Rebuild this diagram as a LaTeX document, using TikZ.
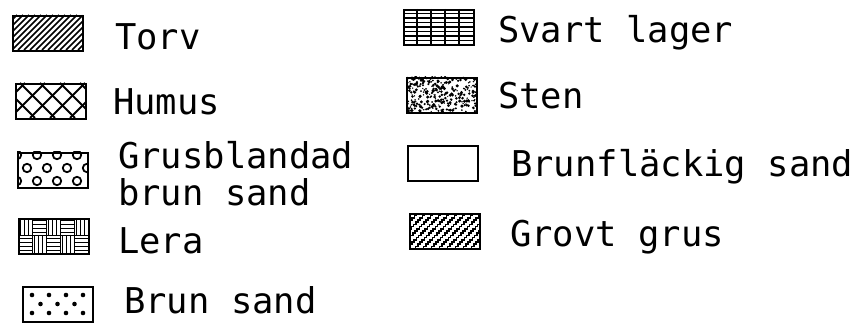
\documentclass[tikz,border=0pt]{standalone}
\usepackage{fontspec}
\newfontfamily\legendfont{DejaVu Sans Mono}
\begin{document}
\begin{tikzpicture}[x=1pt,y=-1pt,
    swatch/.style={draw,line width=2pt,minimum width=70pt,minimum height=35pt,
                   inner sep=0pt,anchor=north west},
    legend/.style={font=\legendfont\fontsize{35.5}{36}\selectfont,anchor=base west,
                   inner sep=0pt},
    hatch/.style={line width=1.6pt}]
  \useasboundingbox (0,0) rectangle (864,323);
  % rutorna, vänster kolumn och höger kolumn
  \node[swatch] (torv)   at (12,15)   {};
  \node[swatch] (humus)  at (15,83)   {};
  \node[swatch] (grus)   at (17,152)  {};
  \node[swatch] (lera)   at (18,218)  {};
  \node[swatch] (brun)   at (22,286)  {};
  \node[swatch] (svart)  at (403,9)   {};
  \node[swatch] (sten)   at (406,77)  {};
  \node[swatch] (flack)  at (407,145) {};
  \node[swatch] (grovt)  at (409,213) {};
  % torv: täta snedstreck
  \begin{scope}[shift={(torv.north west)}]
    \clip (0,0) rectangle (70,35);
    \foreach \k in {-42,-36,...,78} \draw[hatch] (\k,35) -- ++(35,-35);
  \end{scope}
  % humus: korsade streck
  \begin{scope}[shift={(humus.north west)}]
    \clip (0,0) rectangle (70,35);
    \foreach \k in {-45,-25,...,95} {
      \draw[hatch,line width=1.8pt] (\k,35) -- ++(35,-35);
      \draw[hatch,line width=1.8pt] (\k+10,0) -- ++(35,35);
    }
  \end{scope}
  % grusblandad: små ringar
  \begin{scope}[shift={(grus.north west)}]
    \clip (0,0) rectangle (70,35);
    \foreach \y/\o in {3/0,16/10,29/0}
      \foreach \x in {0,20,40,60,80}
        \draw[line width=1.8pt] (\x+\o,\y) circle (4.2);
  \end{scope}
  % lera: block med lodräta och vågräta streck
  \begin{scope}[shift={(lera.north west)}]
    \clip (0,0) rectangle (70,35);
    \foreach \c in {0,...,4}
      \foreach \r in {0,1} {
        \pgfmathtruncatemacro\flip{mod(\c+\r,2)}
        \ifnum\flip=0
          \foreach \s in {2.5,6.5,...,13} \draw[line width=0.8pt] (\c*14+\s,\r*17.5) -- ++(0,17.5);
        \else
          \foreach \s in {2.5,6.5,...,16} \draw[line width=0.8pt] (\c*14,\r*17.5+\s) -- ++(14,0);
        \fi
        \draw[line width=0.9pt] (\c*14,\r*17.5) rectangle ++(14,17.5);
      }
  \end{scope}
  % brun sand: prickar
  \begin{scope}[shift={(brun.north west)}]
    \foreach \y/\o in {9/0,18/8.5,27/0}
      \foreach \x in {10,27,44,61} {
        \pgfmathsetmacro\px{\x+\o}
        \ifdim\px pt<66pt \fill (\px,\y) circle (2.3); \fi
      }
  \end{scope}
  % svart lager: rutnät
  \begin{scope}[shift={(svart.north west)}]
    \clip (0,0) rectangle (70,35);
    \foreach \s in {14,28,42,56} \draw[line width=1.6pt] (\s,0) -- (\s,35);
    \foreach \s in {4.5,9,...,32} \draw[line width=1.3pt] (0,\s) -- (70,\s);
  \end{scope}
  % sten: oregelbundna fläckar
  \begin{scope}[shift={(sten.north west)}]
    \clip (0,0) rectangle (70,35);
    \pgfmathsetseed{42}
    \foreach \i in {1,...,320} {
      \pgfmathsetmacro\px{rnd*70}
      \pgfmathsetmacro\py{rnd*35}
      \pgfmathsetmacro\pr{0.6+rnd*1.1}
      \fill (\px,\py) circle (\pr);
    }
  \end{scope}
  % grovt grus: trappstegade snedstreck
  \begin{scope}[shift={(grovt.north west)}]
    \clip (0,0) rectangle (70,35);
    \foreach \k in {-48,-40,...,80} {
      \draw[line width=1.5pt,line join=miter] (\k,40)
        \foreach \t in {1,...,20} { -- ++(2.2,0) -- ++(0,-2.2) };
    }
  \end{scope}
  % texterna
  \node[legend] (torvtxt)  at (115,50)  {Torv};
  \node[legend] (humustxt) at (113,115) {Humus};
  \node[legend] (grustxt)  at (118,168) {Grusblandad};
  \node[legend] (grustxtb) at (118,205) {brun sand};
  \node[legend] (leratxt)  at (118,253) {Lera};
  \node[legend] (bruntxt)  at (124,313) {Brun sand};
  \node[legend] (svarttxt) at (498,43)  {Svart lager};
  \node[legend] (stentxt)  at (498,109) {Sten};
  \node[legend] (flacktxt) at (511,177) {Brunfläckig sand};
  \node[legend] (grovttxt) at (510,246) {Grovt grus};
\end{tikzpicture}
\end{document}
